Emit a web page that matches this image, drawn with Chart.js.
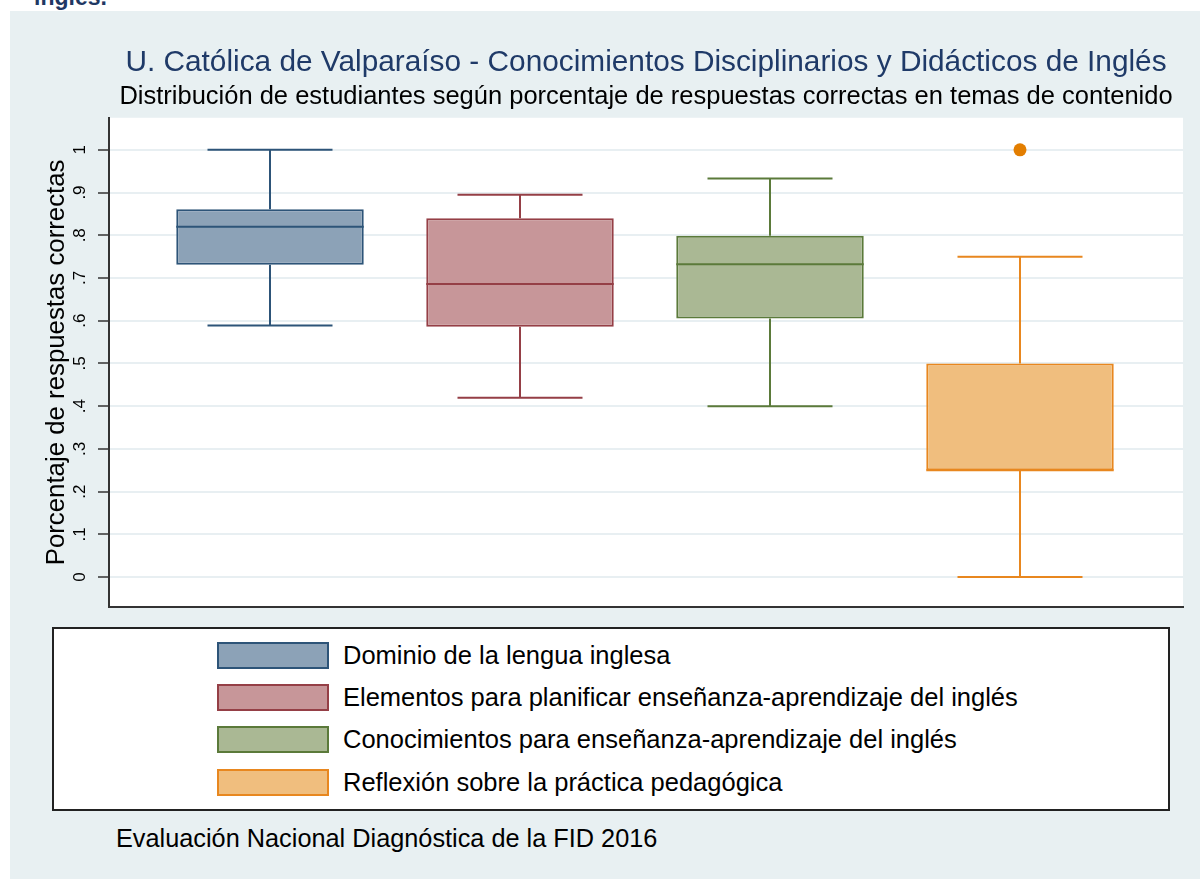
<!DOCTYPE html>
<html>
<head>
<meta charset="utf-8">
<script src="https://cdn.jsdelivr.net/npm/chart.js@4.4.1/dist/chart.umd.min.js"></script>
<style>
  html, body { margin: 0; padding: 0; background: #ffffff; }
  body { width: 1200px; height: 879px; position: relative; overflow: hidden; font-family: "Liberation Sans", Arial, sans-serif; }
  #panel { position: absolute; left: 10px; top: 11px; width: 1190px; height: 868px; background: #e8f0f2; }
  #topcut { position: absolute; left: 34px; top: -16px; font: bold 23px "Liberation Sans", Arial, sans-serif; color: #1f3864; }
  #wrap { position: absolute; left: 10px; top: 11px; width: 1190px; height: 609px; }
  #legend { position: absolute; left: 52px; top: 627px; width: 1114px; height: 180px; background: #fff; border: 2px solid #222; }
  .item { position: absolute; left: 163px; height: 27px; }
  .sw { position: absolute; left: 0; top: 0; width: 108px; height: 23px; border: 2px solid; }
  .lt { position: absolute; left: 126px; top: 0px; white-space: nowrap; font-size: 25.5px; color: #000; line-height: 27px; }
  #note { position: absolute; left: 116px; top: 823px; font-size: 25.3px; line-height: 30px; color: #000; white-space: nowrap; }
</style>
</head>
<body>
<div id="topcut">inglés.</div>
<div id="panel"></div>
<div id="wrap"><canvas id="c"></canvas></div>
<div id="legend"></div>
<div id="note">Evaluación Nacional Diagnóstica de la FID 2016</div>
<script>
// ---- Data ----
const categories = [
  'Dominio de la lengua inglesa',
  'Elementos para planificar enseñanza-aprendizaje del inglés',
  'Conocimientos para enseñanza-aprendizaje del inglés',
  'Reflexión sobre la práctica pedagógica'
];
const whiskerLow  = [0.589, 0.420, 0.400, 0.00];
const q1Values    = [0.731, 0.586, 0.605, 0.25];
const medianVals  = [0.820, 0.686, 0.732, 0.25];
const q3Values    = [0.861, 0.840, 0.799, 0.50];
const whiskerHigh = [1.000, 0.895, 0.933, 0.75];
const outlierVals = [[], [], [], [1.0]];
const tickValues  = [0, 0.1, 0.2, 0.3, 0.4, 0.5, 0.6, 0.7, 0.8, 0.9, 1];
const tickLabels  = ['0', '.1', '.2', '.3', '.4', '.5', '.6', '.7', '.8', '.9', '1'];
const titleText    = 'U. Católica de Valparaíso - Conocimientos Disciplinarios y Didácticos de Inglés';
const subtitleText = 'Distribución de estudiantes según porcentaje de respuestas correctas en temas de contenido';
const yAxisTitle   = 'Porcentaje de respuestas correctas';

// ---- Styles ----
const fillColors   = ['#8ca2b7', '#c79699', '#aab894', '#f0be7e'];
const strokeColors = ['#2d5478', '#953f46', '#5b7a3a', '#e8871f'];
const FONT = '"Liberation Sans", Arial, sans-serif';

// legend (HTML)
const legend = document.getElementById('legend');
const rowTops = [13, 55, 97, 140];
categories.forEach((c, i) => {
  const it = document.createElement('div');
  it.className = 'item';
  it.style.top = rowTops[i] + 'px';
  const sw = document.createElement('div');
  sw.className = 'sw';
  sw.style.background = fillColors[i];
  sw.style.borderColor = strokeColors[i];
  const lt = document.createElement('div');
  lt.className = 'lt';
  lt.textContent = c;
  it.appendChild(sw); it.appendChild(lt);
  legend.appendChild(it);
});

const positions = categories.map((c, i) => i + 1);

const boxPlugin = {
  id: 'boxparts',
  beforeDraw(chart) {
    const {ctx, chartArea: a} = chart;
    ctx.save();
    ctx.fillStyle = '#ffffff';
    ctx.fillRect(a.left, a.top, a.right - a.left, a.bottom - a.top);
    ctx.restore();
  },
  beforeDatasetsDraw(chart) {
    const {ctx, scales: {x, y}} = chart;
    ctx.save();
    ctx.lineWidth = 2;
    positions.forEach((p, i) => {
      const cx = x.getPixelForValue(p);
      const xl = x.getPixelForValue(p - 0.25);
      const xr = x.getPixelForValue(p + 0.25);
      ctx.strokeStyle = strokeColors[i];
      ctx.beginPath();
      ctx.moveTo(cx, y.getPixelForValue(whiskerHigh[i]));
      ctx.lineTo(cx, y.getPixelForValue(q3Values[i]));
      ctx.moveTo(cx, y.getPixelForValue(q1Values[i]));
      ctx.lineTo(cx, y.getPixelForValue(whiskerLow[i]));
      ctx.moveTo(xl, y.getPixelForValue(whiskerHigh[i]));
      ctx.lineTo(xr, y.getPixelForValue(whiskerHigh[i]));
      ctx.moveTo(xl, y.getPixelForValue(whiskerLow[i]));
      ctx.lineTo(xr, y.getPixelForValue(whiskerLow[i]));
      ctx.stroke();
    });
    ctx.restore();
  },
  afterDatasetsDraw(chart) {
    const {ctx, scales: {x, y}} = chart;
    ctx.save();
    ctx.lineWidth = 2;
    positions.forEach((p, i) => {
      const xl = x.getPixelForValue(p - 0.375);
      const xr = x.getPixelForValue(p + 0.375);
      const ym = y.getPixelForValue(medianVals[i]);
      ctx.strokeStyle = strokeColors[i];
      ctx.beginPath();
      ctx.moveTo(xl, ym); ctx.lineTo(xr, ym);
      ctx.stroke();
    });
    ctx.restore();
  }
};

const outlierData = [];
outlierVals.forEach((arr, i) => arr.forEach(v => outlierData.push({x: positions[i], y: v})));

new Chart(document.getElementById('c'), {
  type: 'bar',
  data: {
    datasets: [
      {
        type: 'bar',
        data: positions.map((p, i) => ({x: p, y: [q1Values[i], q3Values[i]]})),
        backgroundColor: fillColors,
        borderColor: strokeColors,
        borderWidth: 2,
        borderSkipped: false,
        grouped: false,
        barPercentage: 0.75,
        categoryPercentage: 1.0
      },
      {
        type: 'scatter',
        data: outlierData,
        pointRadius: 6.5,
        pointBackgroundColor: '#e37e00',
        pointBorderColor: '#e37e00',
        pointBorderWidth: 0
      }
    ]
  },
  plugins: [boxPlugin],
  options: {
    responsive: true,
    maintainAspectRatio: false,
    animation: false,
    layout: { padding: { left: 0, right: 17, top: 0, bottom: 13 } },
    plugins: {
      legend: { display: false },
      tooltip: { enabled: false },
      title: {
        display: true,
        text: titleText,
        fullSize: false,
        color: '#1f3a68',
        font: { family: FONT, size: 29.8, weight: 'normal' },
        padding: { top: 33.5, bottom: 1.2 }
      },
      subtitle: {
        display: true,
        text: subtitleText,
        fullSize: false,
        color: '#000000',
        font: { family: FONT, size: 25.5, weight: 'normal' },
        padding: { top: 0, bottom: 5.7 }
      }
    },
    scales: {
      x: {
        type: 'linear',
        offset: false,
        min: 0.356,
        max: 4.652,
        afterBuildTicks(s) { s.ticks = positions.map(v => ({value: v})); },
        ticks: { display: false },
        grid: { display: false, drawTicks: false, offset: false },
        border: { display: true, color: '#333333', width: 2 },
        afterFit(s) { s.height = 0; s.paddingLeft = 0; s.paddingRight = 0; }
      },
      y: {
        type: 'linear',
        min: -0.07,
        max: 1.075,
        afterBuildTicks(s) { s.ticks = tickValues.map(v => ({value: v})); },
        afterFit(s) { s.width = 99; s.paddingTop = 0; s.paddingBottom = 0; },
        ticks: {
          includeBounds: false,
          minRotation: 90,
          maxRotation: 90,
          crossAlign: 'center',
          padding: 11,
          color: '#000000',
          font: { family: FONT, size: 17 },
          callback(v) { const k = tickValues.findIndex(t => Math.abs(t - v) < 1e-9); return k >= 0 ? tickLabels[k] : ''; }
        },
        grid: { color: '#e8eff2', lineWidth: 2, tickColor: '#333333', tickLength: 11, tickWidth: 1.5 },
        border: { display: true, color: '#333333', width: 2 },
        title: {
          display: true,
          text: yAxisTitle,
          color: '#000000',
          font: { family: FONT, size: 25.8 },
          padding: { top: 31.5, bottom: 0 }
        }
      }
    }
  }
});
</script>
</body>
</html>
